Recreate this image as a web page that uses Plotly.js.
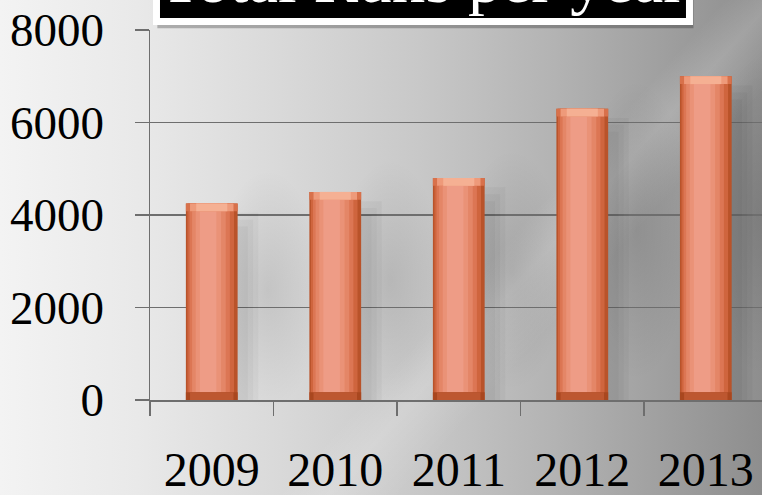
<!DOCTYPE html>
<html>
<head>
<meta charset="utf-8">
<script src="https://cdn.plot.ly/plotly-3.0.1.min.js"></script>
<style>
  html, body { margin:0; padding:0; width:762px; height:495px; overflow:hidden; }
  body {
    background:
      radial-gradient(ellipse 55px 120px at 268px 290px, rgba(0,0,0,0.10), rgba(0,0,0,0) 100%),
      radial-gradient(ellipse 55px 120px at 390px 280px, rgba(0,0,0,0.10), rgba(0,0,0,0) 100%),
      radial-gradient(ellipse 55px 120px at 512px 270px, rgba(0,0,0,0.10), rgba(0,0,0,0) 100%),
      radial-gradient(ellipse 55px 150px at 636px 230px, rgba(0,0,0,0.12), rgba(0,0,0,0) 100%),
      radial-gradient(ellipse 45px 160px at 758px 215px, rgba(0,0,0,0.12), rgba(0,0,0,0) 100%),
      linear-gradient(132deg, rgba(255,255,255,0) 60%, rgba(255,255,255,0.16) 64%, rgba(255,255,255,0) 70%),
      linear-gradient(90deg, #f3f3f3 0%, #e9e9e9 18%, #d8d8d8 38%, #c8c8c8 55%, #b4b4b4 72%, #9e9e9e 88%, #8e8e8e 100%);
  }
  #chart { width:762px; height:495px; }
</style>
</head>
<body>
<div id="chart"></div>
<script>
// ---- data ----
const years = ['2009', '2010', '2011', '2012', '2013'];
const runs  = [4250, 4500, 4800, 6300, 7000];
const yTicks = [0, 2000, 4000, 6000, 8000];
const chartTitle = 'Total Runs per year';

// ---- styling helpers ----
const W = 0.419;          // bar width in category units
const bevel = 170;        // bevel band height in data units
const serif = 'Liberation Serif, Times New Roman, serif';

function band(from, to, color, yvals, base) {
  const t = {
    type: 'bar', x: years, y: yvals,
    width: (to - from) * W,
    offset: -W / 2 + from * W,
    marker: { color: color, line: { width: 0 } },
    hoverinfo: 'skip', showlegend: false
  };
  if (base) t.base = base;
  return t;
}

const traces = [];
// soft shadows to the right
traces.push(band(0.20, 1.40, 'rgba(0,0,0,0.03)', runs.map(v => v - 200)));
traces.push(band(0.30, 1.30, 'rgba(0,0,0,0.03)', runs.map(v => v - 350)));
traces.push(band(0.40, 1.20, 'rgba(0,0,0,0.03)', runs.map(v => v - 500)));
// body gradient
traces.push(band(0.00, 1.00, '#b9532a', runs));
traces.push(band(0.03, 0.93, '#cf653e', runs));
traces.push(band(0.07, 0.85, '#dc7654', runs));
traces.push(band(0.12, 0.77, '#e48667', runs));
traces.push(band(0.19, 0.68, '#ea9277', runs));
traces.push(band(0.27, 0.59, '#ee9c86', runs));
// bottom bevel
const bevH = runs.map(() => bevel);
traces.push(band(0.00, 1.00, '#a9471f', bevH));
traces.push(band(0.08, 0.92, '#bd5730', bevH));
// top bevel
const topBase = runs.map(v => v - bevel);
traces.push(band(0.00, 1.00, '#d8714b', bevH, topBase));
traces.push(band(0.08, 0.92, '#ee9a7a', bevH, topBase));
traces.push(band(0.20, 0.80, '#f5b093', bevH, topBase));

const axisGray = '#6e6e6e';

const layout = {
  width: 762, height: 495,
  margin: { l: 150, r: 0, t: 30, b: 95, pad: 0 },
  paper_bgcolor: 'rgba(0,0,0,0)',
  plot_bgcolor: 'rgba(0,0,0,0)',
  barmode: 'overlay',
  showlegend: false,
  xaxis: {
    type: 'category',
    range: [-0.5, 4.455],
    showline: true, linecolor: axisGray, linewidth: 1.5,
    ticks: 'outside', tickson: 'boundaries', ticklen: 14, tickwidth: 1.5, tickcolor: axisGray,
    showgrid: false,
    tickfont: { family: serif, size: 48, color: '#000' },
    ticklabelstandoff: 27,
    fixedrange: true
  },
  yaxis: {
    range: [0, 8000],
    tickvals: yTicks,
    ticktext: yTicks.map(String),
    showline: true, linecolor: axisGray, linewidth: 1.5,
    ticks: 'outside', ticklen: 14, tickwidth: 1.5, tickcolor: axisGray,
    showgrid: true, gridcolor: axisGray, gridwidth: 1.5,
    zeroline: false,
    tickfont: { family: serif, size: 47, color: '#000' },
    ticklabelstandoff: 21,
    fixedrange: true
  },
  shapes: [
    { type: 'rect', xref: 'paper', yref: 'paper', layer: 'above',
      x0: 0.012, x1: 0.888, y0: 1.005, y1: 1.2,
      fillcolor: 'rgba(0,0,0,0.25)', line: { width: 0 } },
    { type: 'rect', xref: 'paper', yref: 'paper', layer: 'above',
      x0: 0.0106, x1: 0.8815, y0: 1.023, y1: 1.2,
      fillcolor: '#000', line: { color: '#fff', width: 7 } }
  ],
  annotations: [
    { text: chartTitle, xref: 'paper', yref: 'paper',
      x: 0.446, y: 1.0338, xanchor: 'center', yanchor: 'bottom',
      showarrow: false, borderpad: 0,
      font: { family: serif, size: 67, color: '#fff' } }
  ]
};

Plotly.newPlot('chart', traces, layout, { displayModeBar: false, staticPlot: true });
</script>
</body>
</html>
